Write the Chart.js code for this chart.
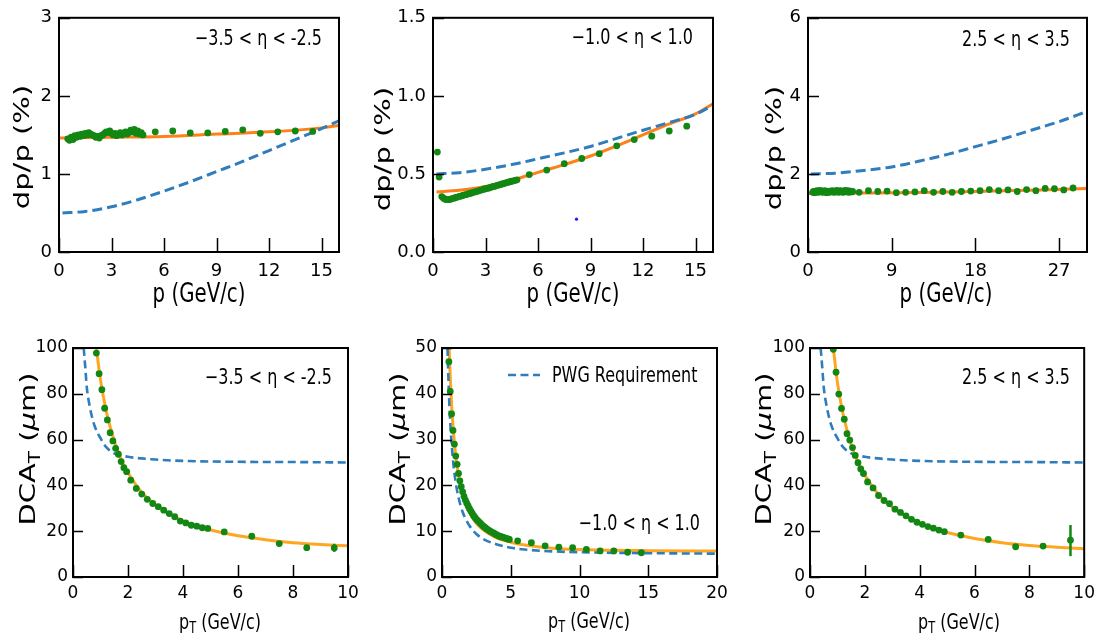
<!DOCTYPE html>
<html>
<head>
<meta charset="utf-8">
<script src="https://cdn.jsdelivr.net/npm/chart.js@4.4.0/dist/chart.umd.min.js"></script>
<style>
  html, body { margin: 0; padding: 0; background: #fff; }
  #wrap { position: relative; width: 1101px; height: 643px; overflow: hidden; }
  #wrap canvas { position: absolute; }
</style>
</head>
<body>
<div id="wrap">
  <canvas id="c1" width="367" height="320" style="left:0;top:0"></canvas>
  <canvas id="c2" width="367" height="320" style="left:367px;top:0"></canvas>
  <canvas id="c3" width="367" height="320" style="left:734px;top:0"></canvas>
  <canvas id="c4" width="367" height="323" style="left:0;top:320px"></canvas>
  <canvas id="c5" width="367" height="323" style="left:367px;top:320px"></canvas>
  <canvas id="c6" width="367" height="323" style="left:734px;top:320px"></canvas>
</div>
<script>
'use strict';

// ---- data ----
let denseP = [0.5, 0.6, 0.7, 0.8, 0.9, 1.0, 1.1, 1.2, 1.3, 1.4, 1.5, 1.6, 1.7, 1.8, 1.9, 2.0, 2.1, 2.2, 2.3, 2.4, 2.5, 2.6,
  2.7, 2.8, 2.9, 3.0, 3.1, 3.2, 3.3, 3.4, 3.5, 3.6, 3.7, 3.8, 3.9, 4.0, 4.1, 4.2, 4.3, 4.4, 4.5, 4.6, 4.7, 4.8];
let sparseP = [5.5, 6.5, 7.5, 8.5, 9.5, 10.5, 11.5, 12.5, 13.5, 14.5];

// top left: -3.5 < eta < -2.5
let p1Dense = [1.45, 1.43, 1.47, 1.44, 1.49, 1.47, 1.50, 1.48, 1.51, 1.49, 1.52, 1.50, 1.53, 1.51, 1.50, 1.49, 1.47, 1.48, 1.46, 1.49,
  1.50, 1.52, 1.54, 1.53, 1.55, 1.52, 1.50, 1.52, 1.49, 1.51, 1.53, 1.50, 1.52, 1.54, 1.51, 1.53, 1.56, 1.54, 1.57, 1.52, 1.55, 1.51, 1.53, 1.50];
let p1Sparse = [1.54, 1.55, 1.525, 1.525, 1.545, 1.565, 1.52, 1.54, 1.55, 1.545];
let p1FitX = [0, 3, 6, 9, 12, 15, 16];
let p1Fit = [1.46, 1.47, 1.48, 1.51, 1.54, 1.59, 1.62];
let p1ReqX = [0.2, 1.5, 3, 4.5, 6, 7.5, 9, 10.5, 12, 13.5, 15, 16];
let p1Req = [0.50, 0.52, 0.58, 0.67, 0.78, 0.90, 1.03, 1.16, 1.30, 1.44, 1.58, 1.68];
let p1XTicks = [0, 3, 6, 9, 12, 15];
let p1XLabels = ['0', '3', '6', '9', '12', '15'];
let p1YTicks = [0, 1, 2, 3];
let p1YLabels = ['0', '1', '2', '3'];

// top middle: -1.0 < eta < 1.0
let p2EarlyX = [0.25, 0.35];
let p2Early = [0.64, 0.48];
let p2Dense = [0.355, 0.345, 0.338, 0.335, 0.336, 0.338, 0.342, 0.345, 0.349, 0.352, 0.356, 0.358, 0.362, 0.366, 0.368, 0.372,
  0.375, 0.378, 0.382, 0.385, 0.388, 0.392, 0.395, 0.398, 0.402, 0.405, 0.408, 0.410, 0.414, 0.418, 0.420, 0.424, 0.428, 0.430,
  0.434, 0.437, 0.440, 0.444, 0.447, 0.450, 0.453, 0.456, 0.459, 0.462];
let p2Sparse = [0.496, 0.525, 0.566, 0.599, 0.63, 0.68, 0.72, 0.742, 0.775, 0.806];
let p2FitX = [0.2, 1.5, 3, 4.8, 6, 7.5, 9, 10.5, 12, 13.5, 15, 16];
let p2Fit = [0.385, 0.395, 0.42, 0.47, 0.51, 0.56, 0.615, 0.68, 0.75, 0.82, 0.885, 0.95];
let p2ReqX = [0.2, 1.5, 3, 4.5, 6, 7.5, 9, 10.5, 12, 13.5, 15, 16];
let p2Req = [0.50, 0.508, 0.53, 0.56, 0.597, 0.635, 0.676, 0.728, 0.78, 0.83, 0.882, 0.94];
let p2StrayX = [8.2];
let p2Stray = [0.21];
let p2YTicks = [0, 0.5, 1.0, 1.5];
let p2YLabels = ['0.0', '0.5', '1.0', '1.5'];

// top right: 2.5 < eta < 3.5
let p3Dense = [1.53, 1.55, 1.52, 1.56, 1.54, 1.57, 1.53, 1.55, 1.58, 1.54, 1.56, 1.53, 1.55, 1.57, 1.54, 1.52, 1.55, 1.56, 1.53, 1.55,
  1.54, 1.57, 1.55, 1.53, 1.56, 1.54, 1.58, 1.55, 1.53, 1.56, 1.57, 1.54, 1.55, 1.53, 1.56, 1.58, 1.55, 1.54, 1.57, 1.53, 1.55, 1.56, 1.54, 1.55];
let p3SparseX = [5.5, 6.5, 7.5, 8.5, 9.5, 10.5, 11.5, 12.5, 13.5, 14.5, 15.5, 16.5, 17.5, 18.5, 19.5, 20.5, 21.5, 22.5, 23.5,
  24.5, 25.5, 26.5, 27.5, 28.5];
let p3Sparse = [1.53, 1.57, 1.55, 1.56, 1.52, 1.53, 1.54, 1.57, 1.53, 1.55, 1.53, 1.55, 1.56, 1.57, 1.60, 1.57, 1.59, 1.55, 1.60,
  1.57, 1.63, 1.62, 1.59, 1.64];
let p3FitX = [0, 5, 10, 15, 20, 25, 30];
let p3Fit = [1.50, 1.51, 1.52, 1.54, 1.56, 1.59, 1.63];
let p3ReqX = [0.3, 3, 6, 9, 12, 15, 18, 21, 24, 27, 30];
let p3Req = [2.0, 2.02, 2.09, 2.18, 2.33, 2.5, 2.7, 2.9, 3.12, 3.34, 3.6];
let p3XTicks = [0, 9, 18, 27];
let p3XLabels = ['0', '9', '18', '27'];
let p3YTicks = [0, 2, 4, 6];
let p3YLabels = ['0', '2', '4', '6'];

// bottom row, DCA_T
let dcaX = [0.85, 0.95, 1.05, 1.15, 1.25, 1.35, 1.45, 1.55, 1.65, 1.75, 1.85, 1.95, 2.1, 2.3, 2.5, 2.7, 2.9, 3.1, 3.3, 3.5, 3.7,
  3.9, 4.1, 4.3, 4.5, 4.7, 4.9, 5.5, 6.5, 7.5, 8.5, 9.5];
let p4Points = [97.8, 88.8, 81.8, 73.7, 68.6, 63, 59.4, 56.2, 53.6, 50.4, 47.7, 46, 42.3, 38.7, 36.2, 33.9, 32.1, 30.7, 29.2,
  27.7, 26.3, 24.4, 23.6, 22.6, 22.2, 21.5, 21.2, 19.7, 17.8, 14.6, 12.8, 12.7];
let p4ErrX = [9.5];
let p4ErrLo = [11.0];
let p4ErrHi = [14.5];
let p4FitX = [0.85, 1.0, 1.2, 1.4, 1.6, 1.8, 2.0, 2.5, 3.0, 3.5, 4.0, 4.5, 5.0, 6.0, 7.0, 8.0, 9.0, 10];
let p4Fit = [100, 86, 73, 63.5, 56, 50, 45.5, 37, 31.5, 27.5, 24.5, 22.2, 20.5, 18, 16.3, 15.0, 14.2, 13.6];
let reqFwdX = [0.39, 0.45, 0.5, 0.6, 0.7, 0.8, 1.0, 1.2, 1.5, 2.0, 3.0, 4.0, 6.0, 8.0, 10];
let reqFwd = [100, 91, 83, 75, 69.5, 65.5, 60.6, 56.8, 54, 52.5, 51.3, 50.7, 50.3, 50.2, 50];

let p5X = [0.5, 0.6, 0.7, 0.8, 0.9, 1.0, 1.1, 1.2, 1.3, 1.4, 1.5, 1.6, 1.7, 1.8, 1.9, 2.0, 2.1, 2.2, 2.3, 2.4, 2.5, 2.6, 2.7,
  2.8, 2.9, 3.0, 3.1, 3.2, 3.3, 3.4, 3.5, 3.6, 3.7, 3.8, 3.9, 4.0, 4.1, 4.2, 4.3, 4.4, 4.5, 4.6, 4.7, 4.8, 4.9,
  5.5, 6.5, 7.5, 8.5, 9.5, 10.5, 11.5, 12.5, 13.5, 14.5];
let p5Points = [47, 40.5, 35.6, 32, 29, 26.4, 24.6, 22.6, 21.0, 19.7, 18.6, 17.6, 16.8, 16.1, 15.5, 14.9, 14.4, 13.9, 13.4, 13.0,
  12.6, 12.3, 12.0, 11.7, 11.4, 11.1, 10.9, 10.6, 10.4, 10.2, 10.0, 9.8, 9.7, 9.5, 9.3, 9.2, 9.0, 8.9, 8.8, 8.7, 8.6, 8.5, 8.4,
  8.3, 8.2, 7.9, 7.5, 6.8, 6.5, 6.4, 6.0, 5.7, 5.7, 5.4, 5.3];
let p5FitX = [0.52, 0.6, 0.7, 0.8, 0.9, 1.0, 1.2, 1.4, 1.6, 1.8, 2.0, 2.5, 3.0, 3.5, 4.0, 5.0, 6.0, 8.0, 10, 12, 15, 20];
let p5Fit = [50, 43.6, 37.5, 33, 29.4, 26.5, 22.3, 19.3, 17.1, 15.4, 14.1, 11.7, 10.3, 9.3, 8.5, 7.6, 7.0, 6.3, 6.0, 5.85, 5.75, 5.65];
let p5ReqX = [0.4, 0.5, 0.6, 0.8, 1.0, 1.2, 1.5, 2.0, 2.5, 3.0, 4.0, 5.0, 6.0, 8.0, 10, 12, 15, 20];
let p5Req = [50, 40.3, 33.7, 25.5, 20.6, 17.4, 14.2, 11.2, 9.4, 8.3, 7.1, 6.4, 6.0, 5.6, 5.4, 5.3, 5.2, 5.1];
let p5XTicks = [0, 5, 10, 15, 20];
let p5XLabels = ['0', '5', '10', '15', '20'];
let p5YTicks = [0, 10, 20, 30, 40, 50];
let p5YLabels = ['0', '10', '20', '30', '40', '50'];

let p6Points = [99.4, 89.4, 79.9, 73.6, 68.9, 62.6, 59.8, 56.5, 53.1, 49.9, 47.2, 45.2, 41.5, 38.9, 35.6, 33.4, 32, 29.6, 28.2,
  26.7, 25.2, 23.9, 23, 22, 21.3, 20.5, 19.8, 18.3, 16.4, 13.2, 13.5, 16.1];
let p6ErrX = [9.5];
let p6ErrLo = [9.1];
let p6ErrHi = [22.7];
let p6FitX = [0.85, 1.0, 1.2, 1.4, 1.6, 1.8, 2.0, 2.5, 3.0, 3.5, 4.0, 4.5, 5.0, 6.0, 7.0, 8.0, 9.0, 10];
let p6Fit = [100, 85, 71.5, 62, 54.5, 49, 44.5, 36, 30.5, 26.5, 23.5, 21.2, 19.4, 16.8, 15.0, 13.8, 13.0, 12.3];
let dcaXTicks = [0, 2, 4, 6, 8, 10];
let dcaXLabels = ['0', '2', '4', '6', '8', '10'];
let dcaYTicks = [0, 20, 40, 60, 80, 100];
let dcaYLabels = ['0', '20', '40', '60', '80', '100'];

// ---- styling ----
const BLUE = '#2f7dbd';
const ORANGE_TOP = '#ff8019';
const ORANGE_BOT = '#ffa620';
const GREEN = '#138713';
const FONT = 'DejaVu Sans';
const SQUEEZE = 0.76;

function pts(xs, ys) {
  return xs.map((x, i) => ({ x: x, y: ys[i] }));
}

function dots(xs, ys) {
  return { data: pts(xs, ys), showLine: false, pointRadius: 3.4, pointBackgroundColor: GREEN, pointBorderWidth: 0, borderColor: GREEN };
}

function curve(xs, ys, color, width, dash) {
  return {
    data: pts(xs, ys), showLine: true, pointRadius: 0, borderColor: color, borderWidth: width,
    borderDash: dash || [], cubicInterpolationMode: 'monotone', fill: false
  };
}

function drawRich(ctx, segs, x, y, size, align, rot) {
  ctx.save();
  ctx.translate(x, y);
  ctx.scale(SQUEEZE, 1);
  if (rot) ctx.rotate(-Math.PI / 2);
  ctx.fillStyle = '#000';
  ctx.textBaseline = 'alphabetic';
  ctx.textAlign = 'left';
  let fontOf = s => (s.it ? 'italic ' : '') + Math.round(s.sub ? size * 0.7 : size) + 'px "' + FONT + '"';
  let total = 0;
  segs.forEach(s => { ctx.font = fontOf(s); total += ctx.measureText(s.t).width; });
  let cx = align === 'center' ? -total / 2 : (align === 'right' ? -total : 0);
  let base = size * 0.36;
  segs.forEach(s => {
    ctx.font = fontOf(s);
    ctx.fillText(s.t, cx, base + (s.sub ? size * 0.22 : 0));
    cx += ctx.measureText(s.t).width;
  });
  ctx.restore();
}

// frame, inward ticks, titles, notes, error bars
function makeDeco(cfg) {
  return {
    id: 'deco',
    afterDatasetsDraw(chart) {
      let ctx = chart.ctx;
      let a = chart.chartArea;
      let sx = chart.scales.x;
      let sy = chart.scales.y;
      ctx.save();
      (cfg.err || []).forEach(e => {
        e.x.forEach((v, i) => {
          let px = sx.getPixelForValue(v);
          ctx.strokeStyle = GREEN;
          ctx.lineWidth = 2.5;
          ctx.beginPath();
          ctx.moveTo(px, sy.getPixelForValue(e.lo[i]));
          ctx.lineTo(px, sy.getPixelForValue(e.hi[i]));
          ctx.stroke();
        });
      });
      ctx.strokeStyle = '#000';
      ctx.lineWidth = 2;
      ctx.strokeRect(a.left, a.top, a.right - a.left, a.bottom - a.top);
      ctx.lineWidth = 1.5;
      ctx.beginPath();
      cfg.xTicks.forEach(v => {
        let px = Math.round(sx.getPixelForValue(v)) + 0.5;
        ctx.moveTo(px, a.bottom);
        ctx.lineTo(px, a.bottom - cfg.tickLenX);
      });
      cfg.yTicks.forEach(v => {
        let py = Math.round(sy.getPixelForValue(v)) + 0.5;
        ctx.moveTo(a.left, py);
        ctx.lineTo(a.left + cfg.tickLenY, py);
      });
      ctx.stroke();
      drawRich(ctx, cfg.xTitle.segs, cfg.xTitle.x, cfg.xTitle.y, cfg.xTitle.size, 'center', false);
      drawRich(ctx, cfg.yTitle.segs, cfg.yTitle.x, cfg.yTitle.y, cfg.yTitle.size, 'center', true);
      drawRich(ctx, [{ t: cfg.note.t }], cfg.note.x, cfg.note.y, 21, 'right', false);
      if (cfg.legend) {
        let L = cfg.legend;
        ctx.strokeStyle = BLUE;
        ctx.lineWidth = 2.6;
        ctx.setLineDash([8, 4.5]);
        ctx.beginPath();
        ctx.moveTo(L.x1, L.y);
        ctx.lineTo(L.x2, L.y);
        ctx.stroke();
        ctx.setLineDash([]);
        drawRich(ctx, [{ t: L.t }], L.tx, L.y, 20.5, 'left', false);
      }
      ctx.restore();
    }
  };
}

function axis(min, max, ticks, labels, size, pad, fit) {
  return {
    type: 'linear', min: min, max: max,
    afterBuildTicks: s => { s.ticks = ticks.map(v => ({ value: v })); },
    ticks: { callback: (v, i) => labels[i], font: { family: FONT, size: size }, color: '#000', padding: pad, autoSkip: false, maxRotation: 0 },
    grid: { display: false, drawTicks: false },
    border: { display: false },
    afterFit: fit
  };
}

function renderPanel(cfg) {
  let chartObj = {
    type: 'scatter',
    data: { datasets: cfg.datasets },
    options: {
      responsive: false,
      animation: false,
      events: [],
      layout: { padding: { left: 0, top: cfg.padTop, right: cfg.padRight, bottom: 0 } },
      scales: {
        x: axis(cfg.xMin, cfg.xMax, cfg.xTicks, cfg.xLabels, cfg.tickSize, cfg.xPad, s => { s.height = cfg.xAxisH; }),
        y: axis(cfg.yMin, cfg.yMax, cfg.yTicks, cfg.yLabels, cfg.tickSize, cfg.yPad, s => { s.width = cfg.yAxisW; })
      },
      plugins: { legend: { display: false }, tooltip: { enabled: false } }
    },
    plugins: [makeDeco(cfg)]
  };
  new Chart(document.getElementById(cfg.id), chartObj); //eslint-disable-line
}

let topDash = [10, 5];
let botDash = [8, 4.5];
let pTitle = [{ t: 'p (GeV/c)' }];
let dpTitle = [{ t: 'dp/p (%)' }];
let ptTitle = [{ t: 'p' }, { t: 'T', sub: true }, { t: ' (GeV/c)' }];
let dcaTitle = [{ t: 'DCA' }, { t: 'T', sub: true }, { t: ' (' }, { t: 'μ', it: true }, { t: 'm)' }];

let topCommon = { padTop: 11, xAxisH: 68, tickSize: 18, xPad: 9, yPad: 7, tickLenX: 14, tickLenY: 11 };
let botCommon = { padTop: 28, xAxisH: 66, tickSize: 17, xPad: 6, yPad: 5, tickLenX: 12, tickLenY: 10 };

renderPanel(Object.assign({}, topCommon, {
  id: 'c1', yAxisW: 59, padRight: 28,
  xMin: 0, xMax: 16, xTicks: p1XTicks, xLabels: p1XLabels,
  yMin: 0, yMax: 3, yTicks: p1YTicks, yLabels: p1YLabels,
  xTitle: { segs: pTitle, x: 199, y: 293, size: 26 },
  yTitle: { segs: dpTitle, x: 21, y: 147, size: 29 },
  note: { t: '\u22123.5 < η < -2.5', x: 322, y: 37 },
  datasets: [
    dots(denseP.concat(sparseP), p1Dense.concat(p1Sparse)),
    curve(p1ReqX, p1Req, BLUE, 3, topDash),
    curve(p1FitX, p1Fit, ORANGE_TOP, 3)
  ]
}));

renderPanel(Object.assign({}, topCommon, {
  id: 'c2', yAxisW: 66, padRight: 21,
  xMin: 0, xMax: 16, xTicks: p1XTicks, xLabels: p1XLabels,
  yMin: 0, yMax: 1.5, yTicks: p2YTicks, yLabels: p2YLabels,
  xTitle: { segs: pTitle, x: 206, y: 293, size: 26 },
  yTitle: { segs: dpTitle, x: 15, y: 149, size: 29 },
  note: { t: '\u22121.0 < η < 1.0', x: 326, y: 36 },
  datasets: [
    dots(p2EarlyX.concat(denseP, sparseP), p2Early.concat(p2Dense, p2Sparse)),
    { data: pts(p2StrayX, p2Stray), showLine: false, pointRadius: 1.6, pointBackgroundColor: '#1a1aff', pointBorderWidth: 0 },
    curve(p2ReqX, p2Req, BLUE, 3, topDash),
    curve(p2FitX, p2Fit, ORANGE_TOP, 3)
  ]
}));

renderPanel(Object.assign({}, topCommon, {
  id: 'c3', yAxisW: 74, padRight: 14,
  xMin: 0, xMax: 30, xTicks: p3XTicks, xLabels: p3XLabels,
  yMin: 0, yMax: 6, yTicks: p3YTicks, yLabels: p3YLabels,
  xTitle: { segs: pTitle, x: 212, y: 293, size: 26 },
  yTitle: { segs: dpTitle, x: 39, y: 148, size: 29 },
  note: { t: '2.5 < η < 3.5', x: 336, y: 38 },
  datasets: [
    dots(denseP.concat(p3SparseX), p3Dense.concat(p3Sparse)),
    curve(p3ReqX, p3Req, BLUE, 3, topDash),
    curve(p3FitX, p3Fit, ORANGE_TOP, 3)
  ]
}));

renderPanel(Object.assign({}, botCommon, {
  id: 'c4', yAxisW: 73, padRight: 19,
  xMin: 0, xMax: 10, xTicks: dcaXTicks, xLabels: dcaXLabels,
  yMin: 0, yMax: 100, yTicks: dcaYTicks, yLabels: dcaYLabels,
  xTitle: { segs: ptTitle, x: 220, y: 301, size: 21 },
  yTitle: { segs: dcaTitle, x: 27, y: 129, size: 29 },
  note: { t: '\u22123.5 < η < -2.5', x: 332, y: 56 },
  err: [{ x: p4ErrX, lo: p4ErrLo, hi: p4ErrHi }],
  datasets: [
    dots(dcaX, p4Points),
    curve(reqFwdX, reqFwd, BLUE, 2.6, botDash),
    curve(p4FitX, p4Fit, ORANGE_BOT, 3)
  ]
}));

renderPanel(Object.assign({}, botCommon, {
  id: 'c5', yAxisW: 75, padRight: 17,
  xMin: 0, xMax: 20, xTicks: p5XTicks, xLabels: p5XLabels,
  yMin: 0, yMax: 50, yTicks: p5YTicks, yLabels: p5YLabels,
  xTitle: { segs: ptTitle, x: 222, y: 300, size: 21 },
  yTitle: { segs: dcaTitle, x: 30, y: 129, size: 29 },
  note: { t: '\u22121.0 < η < 1.0', x: 333, y: 202 },
  legend: { t: 'PWG Requirement', x1: 141, x2: 173, tx: 185, y: 55 },
  datasets: [
    dots(p5X, p5Points),
    curve(p5ReqX, p5Req, BLUE, 2.6, botDash),
    curve(p5FitX, p5Fit, ORANGE_BOT, 3)
  ]
}));

renderPanel(Object.assign({}, botCommon, {
  id: 'c6', yAxisW: 76, padRight: 16,
  xMin: 0, xMax: 10, xTicks: dcaXTicks, xLabels: dcaXLabels,
  yMin: 0, yMax: 100, yTicks: dcaYTicks, yLabels: dcaYLabels,
  xTitle: { segs: ptTitle, x: 225, y: 301, size: 21 },
  yTitle: { segs: dcaTitle, x: 29, y: 129, size: 29 },
  note: { t: '2.5 < η < 3.5', x: 336, y: 56 },
  err: [{ x: p6ErrX, lo: p6ErrLo, hi: p6ErrHi }],
  datasets: [
    dots(dcaX, p6Points),
    curve(reqFwdX, reqFwd, BLUE, 2.6, botDash),
    curve(p6FitX, p6Fit, ORANGE_BOT, 3)
  ]
}));
</script>
</body>
</html>
